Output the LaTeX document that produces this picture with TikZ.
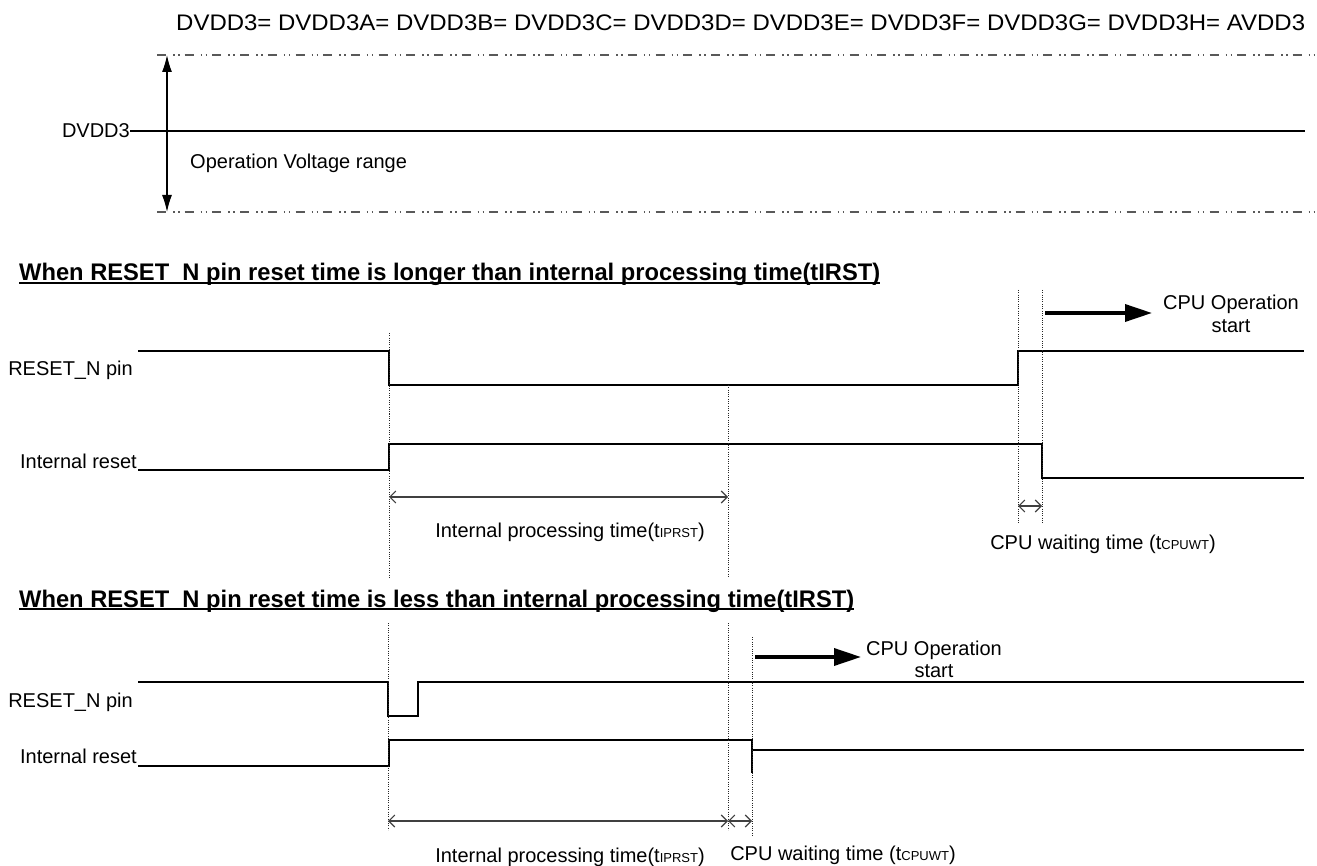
\documentclass[tikz,border=0pt]{standalone}
\usepackage{fontspec}
\setmainfont{Liberation Sans}
\usetikzlibrary{arrows.meta}
\newcommand\bodyfont{\fontsize{20}{24}\selectfont}
\newcommand\subfont{\fontsize{13}{15}\selectfont}
\newcommand\topfont{\fontsize{22.5}{26}\selectfont}
\newcommand\secfont{\fontsize{24}{28}\selectfont\bfseries}
\begin{document}
\begin{tikzpicture}[x=1pt,y=-1pt,
  sig/.style={line width=1.2pt, black},
  guide/.style={line width=0.8pt, dash pattern=on 1pt off 1.3pt, black!85},
  dimarrow/.style={line width=1.1pt, black!75, {Straight Barb[length=6pt,width=12pt]}-{Straight Barb[length=6pt,width=12pt]}},
  bigarrow/.style={line width=3.5pt, -{Triangle[length=27pt,width=17pt]}},
  rangeline/.style={line width=1.2pt, black!65, dash pattern=on 9pt off 7pt on 1.5pt off 3.5pt on 1.5pt off 5.2pt},
  lbl/.style={font=\bodyfont, inner sep=0pt},
  sectitle/.style={inner sep=0pt, anchor=base west}]
\useasboundingbox (0,0) rectangle (1317,866);

% ---------- top: operation voltage range ----------
\node[inner sep=0pt, anchor=base west] (toptitle) at (176,31)
  {\resizebox{1129pt}{\height}{\topfont DVDD3= DVDD3A= DVDD3B= DVDD3C= DVDD3D= DVDD3E= DVDD3F= DVDD3G= DVDD3H= AVDD3}};
\coordinate (rtL) at (157,55);  \coordinate (rtR) at (1317,55);
\coordinate (rbL) at (157,212); \coordinate (rbR) at (1317,212);
\draw[rangeline] (rtL) -- (rtR);
\draw[rangeline] (rbL) -- (rbR);
\coordinate (vaT) at (167,55); \coordinate (vaB) at (167,212);
\draw[line width=1.3pt, {Latex[length=17pt,width=10pt]}-{Latex[length=17pt,width=10pt]}] (vaT) -- (vaB);
\node[lbl, anchor=base east] (dvdd) at (130,138) {DVDD3};
\coordinate (dvddR) at (1305,131);
\draw[line width=1.5pt] (dvdd.east |- dvddR) -- (dvddR);
\node[lbl, anchor=base west] (opv) at (190,169) {Operation Voltage range};

% ---------- section 1 ----------
\node[sectitle] (s1title) at (19,281)
  {\resizebox{861pt}{\height}{\secfont When RESET\_N pin reset time is longer than internal processing time(tIRST)}};
\draw[line width=1.5pt] ([yshift=-2pt]s1title.base west) -- ([yshift=-2pt]s1title.base east);

\node[lbl, anchor=base east] (r1lbl) at (133,376) {RESET\_N pin};
\node[lbl, anchor=base east] (i1lbl) at (137,468) {Internal reset};

\coordinate (r1a) at (138,351); \coordinate (r1b) at (389,351); \coordinate (r1c) at (389,385);
\coordinate (r1d) at (1018,385); \coordinate (r1e) at (1018,351); \coordinate (r1f) at (1304,351);
\draw[sig] (r1a) -- (r1b) -- (r1c) -- (r1d) -- (r1e) -- (r1f);

\coordinate (i1a) at (138,470); \coordinate (i1b) at (389,470); \coordinate (i1c) at (389,444);
\coordinate (i1d) at (1042,444); \coordinate (i1e) at (1042,478); \coordinate (i1f) at (1304,478);
\draw[sig] (i1a) -- (i1b) -- (i1c) -- (i1d) -- (i1e) -- (i1f);

\coordinate (g1aT) at (389,333);  \coordinate (g1aB) at (389,577);
\coordinate (g1bT) at (728,385);  \coordinate (g1bB) at (728,577);
\coordinate (g1cT) at (1018,290); \coordinate (g1cB) at (1018,523);
\coordinate (g1dT) at (1042,290); \coordinate (g1dB) at (1042,523);
\draw[guide] (g1aT) -- (g1aB);
\draw[guide] (g1bT) -- (g1bB);
\draw[guide] (g1cT) -- (g1cB);
\draw[guide] (g1dT) -- (g1dB);

\coordinate (d1a) at (389,497); \coordinate (d1b) at (728,497);
\draw[dimarrow] (d1a) -- (d1b);
\coordinate (d1c) at (1018,506); \coordinate (d1d) at (1042,506);
\draw[dimarrow] (d1c) -- (d1d);

\node[lbl, anchor=base] (ipt1) at (570,537) {Internal processing time(t{\subfont IPRST})};
\node[lbl, anchor=base] (cwt1) at (1103,549) {CPU waiting time (t{\subfont CPUWT})};

\coordinate (b1a) at (1045,313); \coordinate (b1b) at (1152,313);
\draw[bigarrow] (b1a) -- (b1b);
\node[lbl, anchor=base] (cpu1a) at (1231,310) {CPU Operation};
\node[lbl, anchor=base] (cpu1b) at (1231,333) {start};

% ---------- section 2 ----------
\node[sectitle] (s2title) at (19,607)
  {\resizebox{835pt}{\height}{\secfont When RESET\_N pin reset time is less than internal processing time(tIRST)}};
\draw[line width=1.5pt] ([yshift=-2pt]s2title.base west) -- ([yshift=-2pt]s2title.base east);

\node[lbl, anchor=base east] (r2lbl) at (133,707) {RESET\_N pin};
\node[lbl, anchor=base east] (i2lbl) at (137,763) {Internal reset};

\coordinate (r2a) at (138,682); \coordinate (r2b) at (388,682); \coordinate (r2c) at (388,716);
\coordinate (r2d) at (418,716); \coordinate (r2e) at (418,682); \coordinate (r2f) at (1304,682);
\draw[sig] (r2a) -- (r2b) -- (r2c) -- (r2d) -- (r2e) -- (r2f);

\coordinate (i2a) at (138,766); \coordinate (i2b) at (389,766); \coordinate (i2c) at (389,740);
\coordinate (i2d) at (752,740); \coordinate (i2e) at (752,773);
\coordinate (i2f) at (752,750); \coordinate (i2g) at (1304,750);
\draw[sig] (i2a) -- (i2b) -- (i2c) -- (i2d) -- (i2e);
\draw[sig] (i2f) -- (i2g);

\coordinate (g2aT) at (388,623); \coordinate (g2aB) at (388,830);
\coordinate (g2bT) at (728,623); \coordinate (g2bB) at (728,830);
\coordinate (g2cT) at (752,637); \coordinate (g2cB) at (752,837);
\draw[guide] (g2aT) -- (g2aB);
\draw[guide] (g2bT) -- (g2bB);
\draw[guide] (g2cT) -- (g2cB);

\coordinate (d2a) at (388,821); \coordinate (d2b) at (728,821); \coordinate (d2c) at (752,821);
\draw[dimarrow] (d2a) -- (d2b);
\draw[dimarrow] (d2b) -- (d2c);

\node[lbl, anchor=base] (ipt2) at (570,862) {Internal processing time(t{\subfont IPRST})};
\node[lbl, anchor=base] (cwt2) at (843,860) {CPU waiting time (t{\subfont CPUWT})};

\coordinate (b2a) at (755,657); \coordinate (b2b) at (861,657);
\draw[bigarrow] (b2a) -- (b2b);
\node[lbl, anchor=base] (cpu2a) at (934,655) {CPU Operation};
\node[lbl, anchor=base] (cpu2b) at (934,677) {start};
\end{tikzpicture}
\end{document}
